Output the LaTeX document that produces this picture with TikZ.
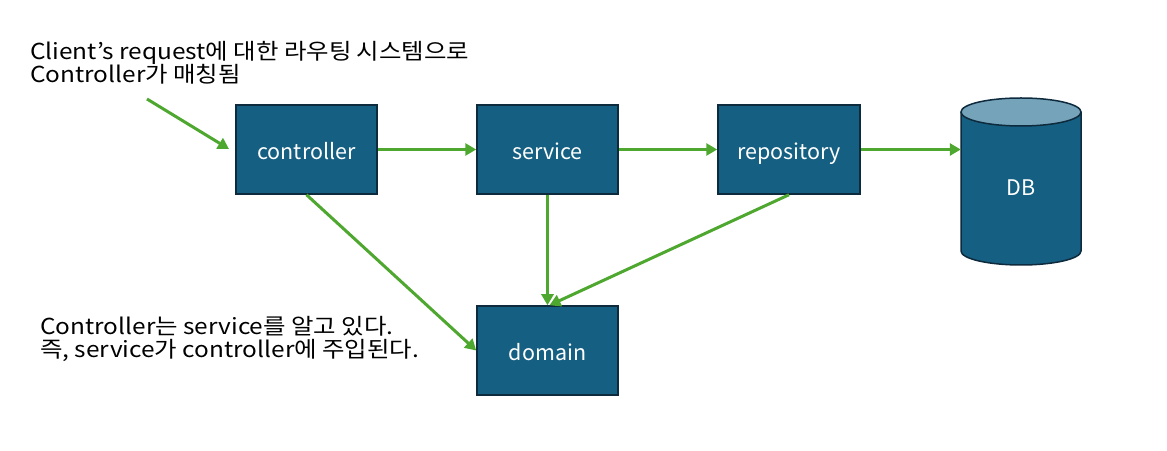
\documentclass[tikz,border=0pt]{standalone}
\usepackage{fontspec}
\setmainfont{Noto Sans CJK KR}
\newfontfamily\widefont[FakeStretch=1.11]{Noto Sans CJK KR}
\usetikzlibrary{arrows.meta}
\definecolor{boxfill}{HTML}{156082}
\definecolor{boxline}{HTML}{0E2A3D}
\definecolor{dbtop}{HTML}{75A3BA}
\definecolor{arrowgreen}{HTML}{4EA72E}
\tikzset{
  compbox/.style={draw=boxline, line width=1.5pt, fill=boxfill, text=white,
    minimum width=141pt, minimum height=89pt, inner sep=0pt,
    text height=21pt, text depth=0pt,
    font=\fontsize{21.5}{24}\selectfont},
  conn/.style={draw=arrowgreen, line width=3pt,
    -{Triangle[length=11pt,width=12pt]}, shorten >=0pt},
  note/.style={align=left, anchor=north west, inner sep=0pt,
    font=\widefont\fontsize{22}{23.5}\selectfont}
}
\begin{document}
\begin{tikzpicture}[x=1pt,y=1pt]
\useasboundingbox (0,0) rectangle (1167,450);
% boxes
\node[compbox] (controller) at (306.5,300.5) {controller};
\node[compbox] (service) at (547.5,300.5) {service};
\node[compbox, minimum width=142pt] (repository) at (789,300.5) {repository};
\node[compbox] (domain) at (547.5,99.5) {domain};
% DB cylinder
\fill[boxfill] (961,338) -- (961,199) arc[start angle=180,end angle=360,x radius=60,y radius=14] -- (1081,338) arc[start angle=0,end angle=180,x radius=60,y radius=14] -- cycle;
\draw[boxline, line width=1.5pt] (961,338) -- (961,199) arc[start angle=180,end angle=360,x radius=60,y radius=14] -- (1081,338);
\draw[boxline, line width=1.5pt, fill=dbtop] (1021,338) ellipse[x radius=60,y radius=14];
\node[inner sep=0pt, minimum width=120pt, minimum height=139pt, text=white,
  text height=21pt, text depth=0pt,
  font=\fontsize{21.5}{24}\selectfont] (db) at (1021,264.5) {DB};
% notes
\node[note] (req) at (30,409) {Client’s request에 대한 라우팅 시스템으로\\Controller가 매칭됨};
\node[note] (inj) at (40,134) {Controller는 service를 알고 있다.\\즉, service가 controller에 주입된다.};
% connectors
\coordinate (reqstart) at (147,351);
\coordinate (reqend) at (229,301);
\draw[conn] (reqstart) -- (reqend);
\draw[conn] (controller.east) -- (service.west);
\draw[conn] (service.east) -- (repository.west);
\draw[conn] (repository.east) -- (repository.east -| db.west);
\draw[conn] (controller.south) -- (domain.west);
\draw[conn] (service.south) -- (domain.north);
\draw[conn] (repository.south) -- ([xshift=2pt]domain.north);
\end{tikzpicture}
\end{document}
